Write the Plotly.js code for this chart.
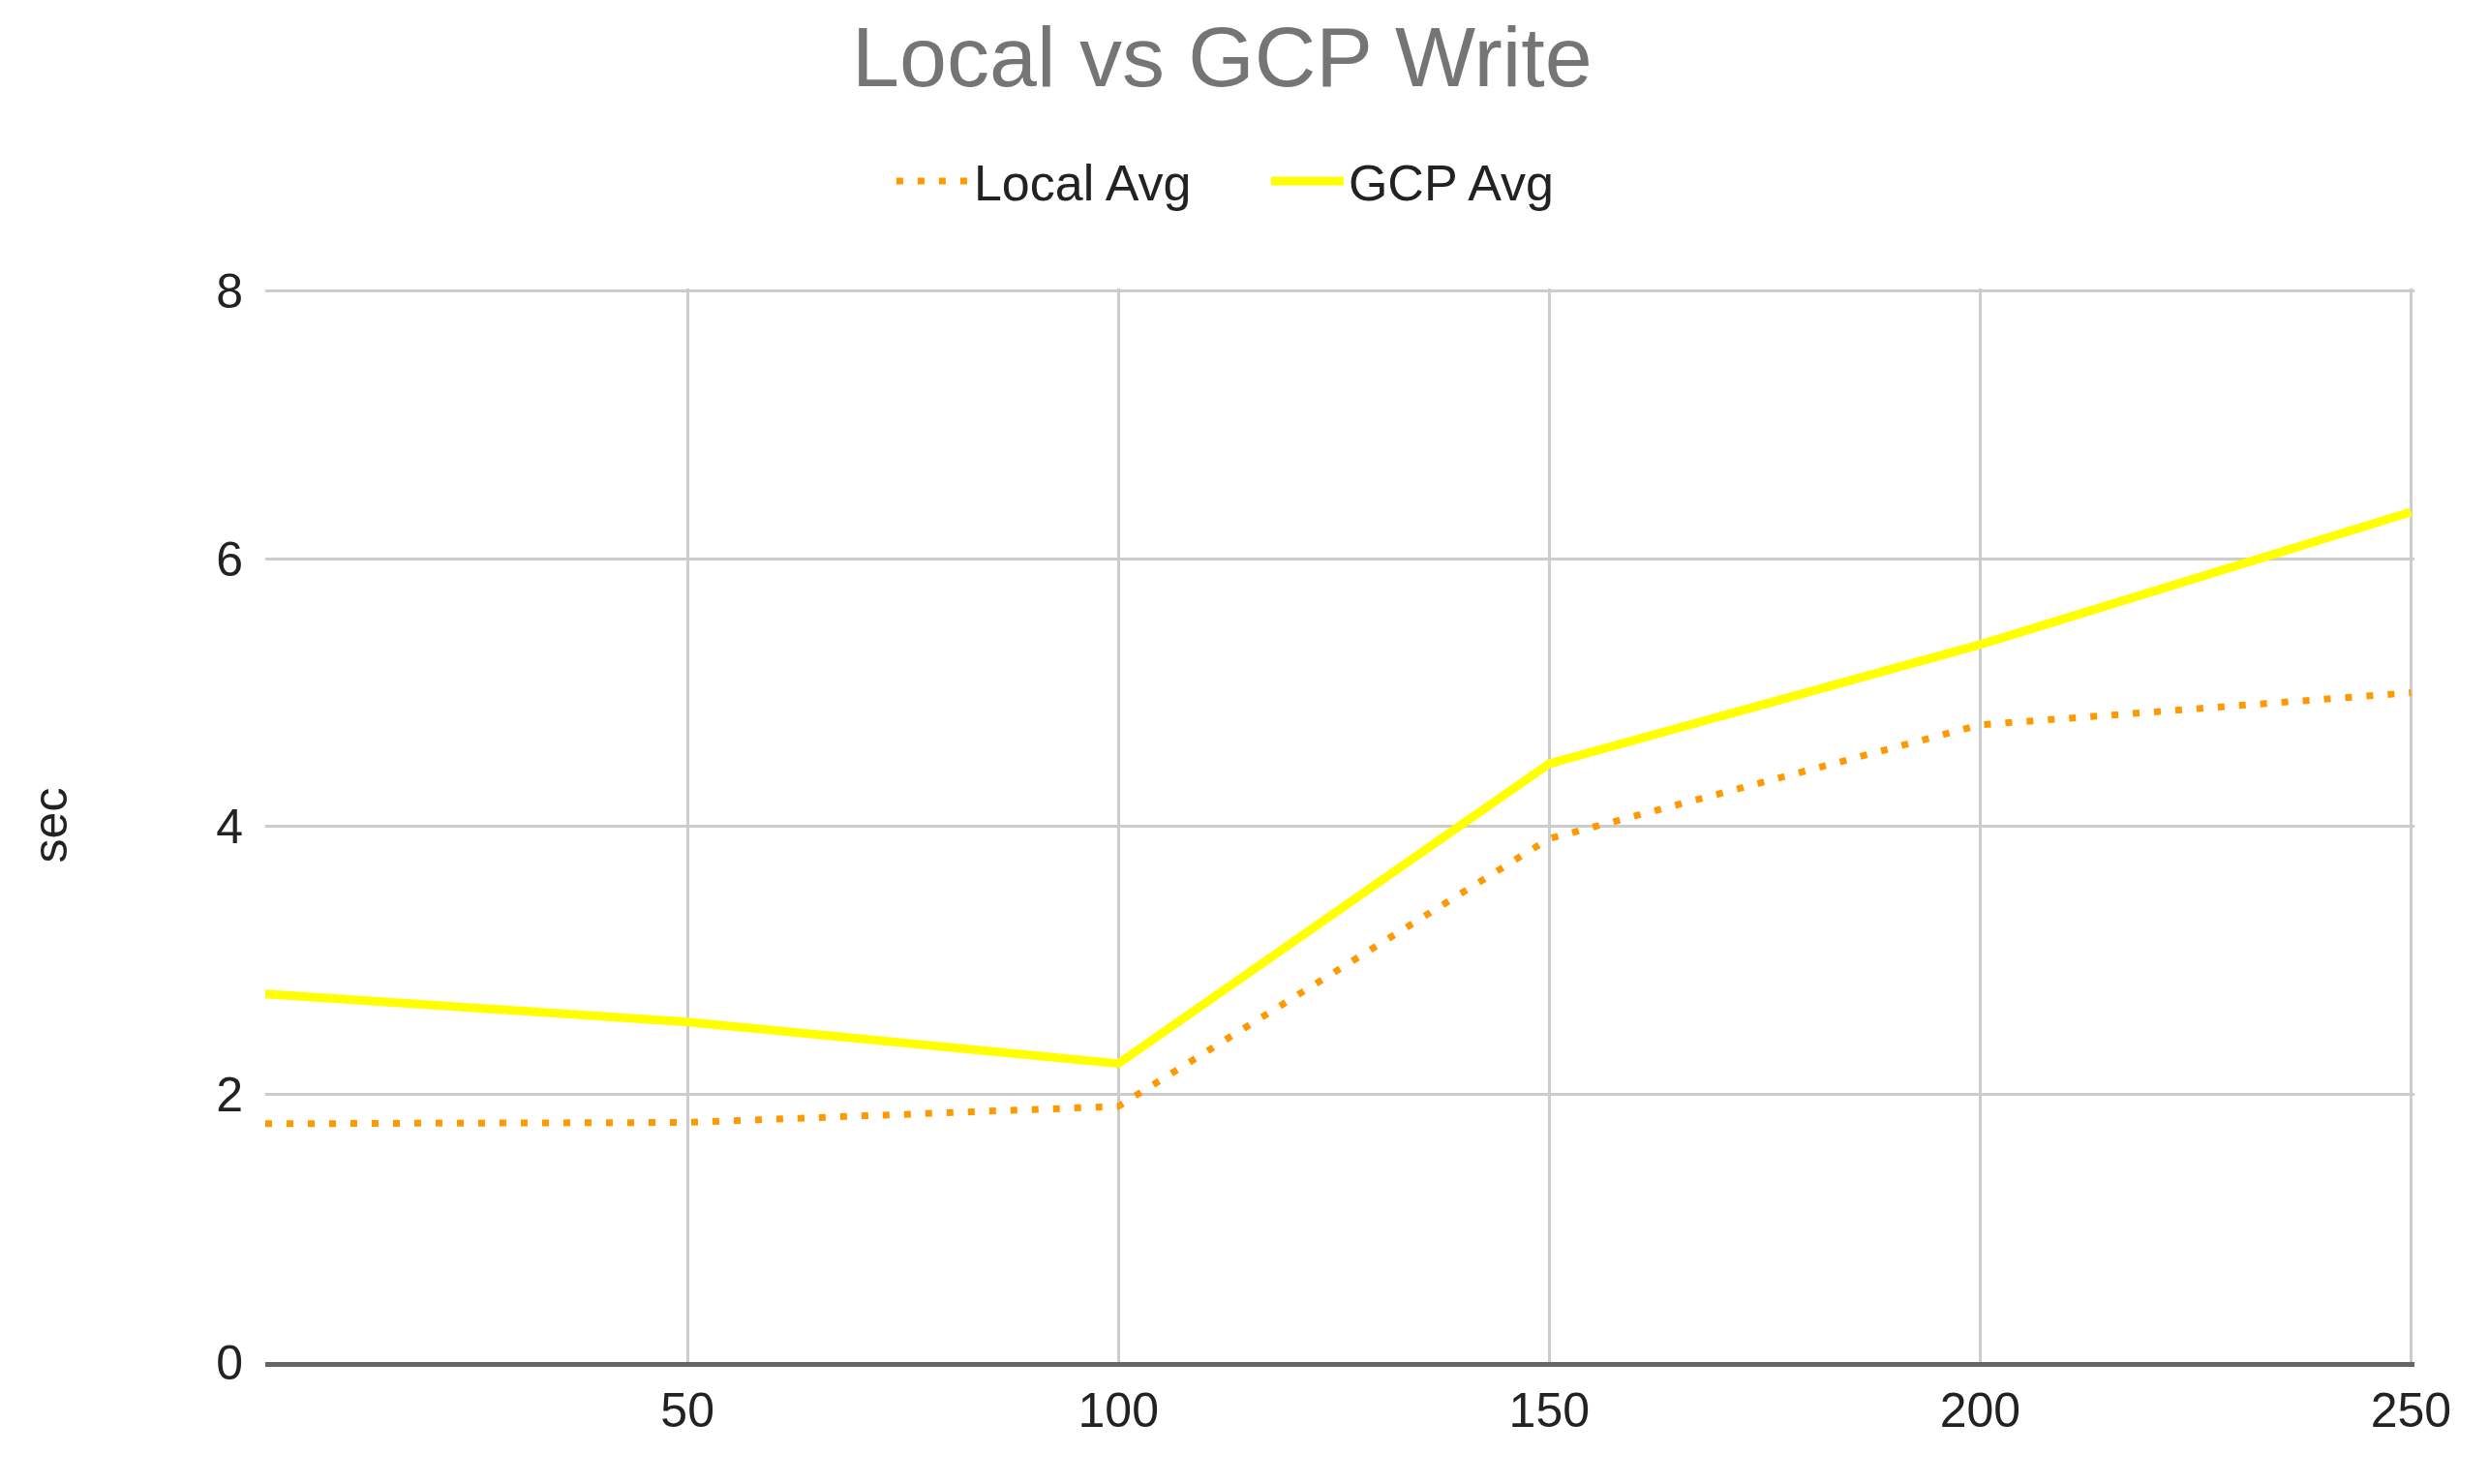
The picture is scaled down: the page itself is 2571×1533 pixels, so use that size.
<!DOCTYPE html>
<html>
<head>
<meta charset="utf-8">
<script src="https://cdn.plot.ly/plotly-3.0.1.min.js"></script>
<style>
  html, body { margin: 0; padding: 0; background: #fff; }
  #chart { width: 2571px; height: 1533px; }
</style>
</head>
<body>
<div id="chart"></div>
<script>
// x positions (number of records)
var sizes = [1, 50, 100, 150, 200, 250];

// average write time in seconds
var localAvg = [1.78, 1.79, 1.91, 3.91, 4.76, 5.00];
var gcpAvg = [2.75, 2.54, 2.23, 4.47, 5.36, 6.35];

var xTicks = [50, 100, 150, 200, 250];
var yTicks = [0, 2, 4, 6, 8];

var font = 'Liberation Sans, Arial, sans-serif';

var data = [{
    x: sizes,
    y: localAvg,
    name: 'Local Avg',
    type: 'scatter',
    mode: 'lines',
    line: {
        color: '#FF9900',
        width: 7,
        dash: '7px,15px'
    }
}, {
    x: sizes,
    y: gcpAvg,
    name: 'GCP Avg',
    type: 'scatter',
    mode: 'lines',
    line: {
        color: '#FFFF00',
        width: 9
    }
}];

var layout = {
    width: 2571,
    height: 1533,
    margin: {l: 274, r: 77, t: 298, b: 126},
    paper_bgcolor: '#fff',
    plot_bgcolor: '#fff',
    font: {family: font, size: 50, color: '#222'},
    title: {
        text: 'Local vs GCP Write',
        font: {family: font, size: 88, color: '#757575'},
        x: 0.491,
        xanchor: 'center',
        y: 0.962,
        yanchor: 'middle'
    },
    showlegend: true,
    legend: {
        orientation: 'h',
        x: 0.2914,
        xanchor: 'left',
        y: 1.1,
        yanchor: 'middle',
        itemwidth: 75,
        entrywidth: 297,
        entrywidthmode: 'pixels',
        font: {family: font, size: 52, color: '#222'}
    },
    xaxis: {
        range: [1, 250.4],
        tickvals: xTicks,
        ticktext: xTicks.map(String),
        showgrid: true,
        gridcolor: '#cccccc',
        gridwidth: 3,
        zeroline: false,
        showline: true,
        linecolor: '#666666',
        linewidth: 5,
        ticks: '',
        ticklabelstandoff: 2,
        tickfont: {family: font, size: 50, color: '#222'}
    },
    yaxis: {
        title: {text: 'sec', font: {family: font, size: 50, color: '#222'}, standoff: 137},
        range: [0, 8.02],
        tickvals: yTicks,
        ticktext: yTicks.map(String),
        showgrid: true,
        gridcolor: '#cccccc',
        gridwidth: 3,
        zeroline: false,
        showline: false,
        ticks: '',
        ticklabelstandoff: 22,
        tickfont: {family: font, size: 50, color: '#222'}
    }
};

Plotly.newPlot('chart', data, layout, {displayModeBar: false, staticPlot: true});
</script>
</body>
</html>
